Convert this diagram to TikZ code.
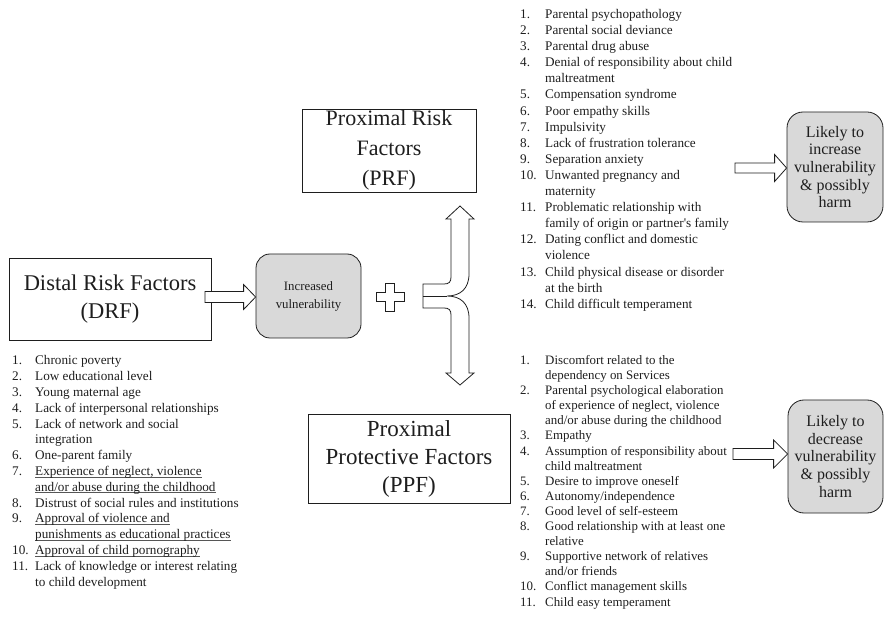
\documentclass[tikz,border=0pt]{standalone}
\usepackage{fontspec}
\setmainfont{Liberation Serif}
\usetikzlibrary{calc}
\definecolor{boxgray}{RGB}{217,217,217}
\definecolor{ink}{RGB}{30,30,30}
\newsavebox\ulbox
\newcommand\ulx[1]{\sbox\ulbox{#1}\rlap{\color{ink!75}\rule[-1.7pt]{\wd\ulbox}{0.6pt}}\usebox\ulbox}
\newcommand\harrow[5]{\draw[barrow] let \p1=(#1), \p2=(#2) in
  (\x1,{\y2+#3pt}) -- ({\x2-#5pt},{\y2+#3pt}) -- ({\x2-#5pt},{\y2+#4pt}) -- (\x2,\y2)
  -- ({\x2-#5pt},{\y2-#4pt}) -- ({\x2-#5pt},{\y2-#3pt}) -- (\x1,{\y2-#3pt}) -- cycle;}
\begin{document}
\begin{tikzpicture}[x=1pt,y=-1pt]
\tikzset{
  sqbox/.style={draw=ink, line width=0.8pt, fill=white, inner sep=0pt, align=center, text=ink},
  rbox/.style={draw=ink, line width=0.8pt, fill=boxgray, rounded corners=14pt, inner sep=0pt, align=center, text=ink},
  barrow/.style={draw=ink, line width=0.8pt, fill=white, line join=miter},
  flist/.style={anchor=base west, inner sep=0pt, text=ink}
}
\useasboundingbox (0,0) rectangle (887,620);

% boxes
\node[sqbox, minimum width=202pt, minimum height=82pt,
  font=\fontsize{22.5}{28}\selectfont] (drf) at (110,299) {Distal Risk Factors\\(DRF)};
\node[rbox, minimum width=105pt, minimum height=84pt,
  font=\fontsize{12.8}{18}\selectfont] (incv) at (308.5,296) {Increased\\vulnerability};
\node[sqbox, minimum width=174pt, minimum height=83pt,
  font=\fontsize{22}{30}\selectfont] (prf) at (389,150.5) {Proximal Risk\\Factors\\(PRF)};
\node[sqbox, minimum width=202pt, minimum height=89pt,
  font=\fontsize{23}{28}\selectfont] (ppf) at (409,458.5) {Proximal\\Protective Factors\\(PPF)};
\node[rbox, minimum width=96pt, minimum height=110pt, rounded corners=16pt,
  font=\fontsize{16}{17.7}\selectfont] (inc) at (835,167) {Likely to\\increase\\vulnerability\\\& possibly\\harm};
\node[rbox, minimum width=95pt, minimum height=113pt, rounded corners=16pt,
  font=\fontsize{16}{17.7}\selectfont] (dec) at (835.5,456.5) {Likely to\\decrease\\vulnerability\\\& possibly\\harm};

% block arrows
\coordinate (s1) at (205,297);
\coordinate (t1) at ($(incv.west)+(0,1)$);
\harrow{s1}{t1}{5.5}{12.5}{12}
\coordinate (s2) at (735,168);
\coordinate (t2) at ($(inc.west)+(0,1)$);
\harrow{s2}{t2}{5}{13.5}{12}
\coordinate (s3) at (733,454);
\coordinate (t3) at ($(dec.west)+(0,-2.5)$);
\harrow{s3}{t3}{5.5}{14}{14}

% plus sign
\draw[barrow] (385.5,283) -- (394.5,283) -- (394.5,292.5) -- (404,292.5) -- (404,301.5)
  -- (394.5,301.5) -- (394.5,311) -- (385.5,311) -- (385.5,301.5) -- (376,301.5)
  -- (376,292.5) -- (385.5,292.5) -- cycle;

% branching arrow
\coordinate (br) at (423,296);
\draw[barrow] (423,284) -- (444,284) .. controls (449,284) and (451,282) .. (451,277)
  -- (451,219) -- (446,219) -- (460,206) -- (474,219) -- (469,219) -- (469,274)
  .. controls (469,289) and (460,296) .. (447,296)
  .. controls (460,296) and (469,303) .. (469,318)
  -- (469,373) -- (474,373) -- (460,385) -- (446,373) -- (451,373) -- (451,315)
  .. controls (451,310) and (449,308) .. (444,308) -- (423,308) -- cycle;
\draw[draw=ink, line width=0.8pt] (br) -- (447,296);

% lists
\node[flist] (drflist) at (12,365) {\fontsize{13.2}{15.8}\selectfont
\begin{tabular}[t]{@{}p{23pt}@{}l@{}}
1. & Chronic poverty\\
2. & Low educational level\\
3. & Young maternal age\\
4. & Lack of interpersonal relationships\\
5. & Lack of network and social\\
   & integration\\
6. & One-parent family\\
7. & \ulx{Experience of neglect, violence}\\
   & \ulx{and/or abuse during the childhood}\\
8. & Distrust of social rules and institutions\\
9. & \ulx{Approval of violence and}\\
   & \ulx{punishments as educational practices}\\
10. & \ulx{Approval of child pornography}\\
11. & Lack of knowledge or interest relating\\
    & to child development
\end{tabular}};

\node[flist] (prflist) at (520,18.5) {\fontsize{13.2}{16.1}\selectfont
\begin{tabular}[t]{@{}p{25pt}@{}l@{}}
1. & Parental psychopathology\\
2. & Parental social deviance\\
3. & Parental drug abuse\\
4. & Denial of responsibility about child\\
   & maltreatment\\
5. & Compensation syndrome\\
6. & Poor empathy skills\\
7. & Impulsivity\\
8. & Lack of frustration tolerance\\
9. & Separation anxiety\\
10. & Unwanted pregnancy and\\
    & maternity\\
11. & Problematic relationship with\\
    & family of origin or partner\textquotesingle s family\\
12. & Dating conflict and domestic\\
    & violence\\
13. & Child physical disease or disorder\\
    & at the birth\\
14. & Child difficult temperament
\end{tabular}};

\node[flist] (ppflist) at (520,364.5) {\fontsize{12.9}{15.1}\selectfont
\begin{tabular}[t]{@{}p{25pt}@{}l@{}}
1. & Discomfort related to the\\
   & dependency on Services\\
2. & Parental psychological elaboration\\
   & of experience of neglect, violence\\
   & and/or abuse during the childhood\\
3. & Empathy\\
4. & Assumption of responsibility about\\
   & child maltreatment\\
5. & Desire to improve oneself\\
6. & Autonomy/independence\\
7. & Good level of self-esteem\\
8. & Good relationship with at least one\\
   & relative\\
9. & Supportive network of relatives\\
   & and/or friends\\
10. & Conflict management skills\\
11. & Child easy temperament
\end{tabular}};
\end{tikzpicture}
\end{document}
